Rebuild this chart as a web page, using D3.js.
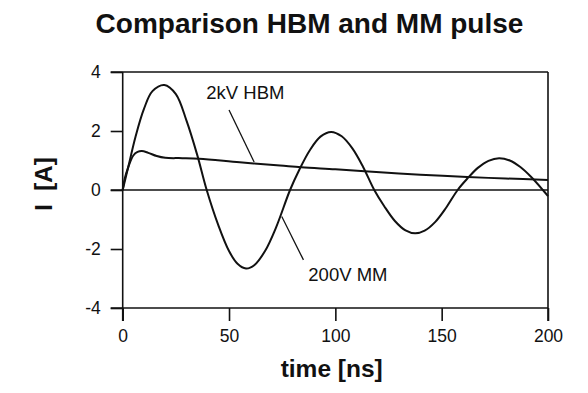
<!DOCTYPE html>
<html><head><meta charset="utf-8">
<script src="https://cdn.jsdelivr.net/npm/d3@7"></script>
<style>body{margin:0;background:#fff}svg{display:block}text{font-family:"Liberation Sans",Arial,Helvetica,sans-serif;fill:#111}</style>
</head><body>
<svg id="c" width="588" height="393"></svg>
<script>
const title = "Comparison HBM and MM pulse";
const xLabel = "time [ns]";
const yLabel = "I  [A]";
const xTicks = [0, 50, 100, 150, 200];
const yTicks = [-4, -2, 0, 2, 4];

// 200V MM pulse (time ns, current A)
const mmTime = [0, 3, 6, 10, 14, 19.6, 25, 30, 35, 39.5, 45, 50, 54, 58, 62, 67, 72, 78.7, 83, 88, 93, 98, 103, 108, 113, 118.3, 123, 128, 133, 137.5, 142, 147, 152, 157.5, 162, 167, 172, 177, 182, 187, 192, 197.6, 200];
const mmCurr = [0, 0.9, 1.8, 2.75, 3.35, 3.56, 3.25, 2.35, 1.2, 0, -1.2, -2.07, -2.5, -2.66, -2.54, -2.06, -1.29, 0, 0.68, 1.35, 1.81, 1.97, 1.82, 1.41, 0.79, 0, -0.55, -1.05, -1.37, -1.47, -1.38, -1.08, -0.61, 0, 0.38, 0.75, 0.99, 1.08, 1.0, 0.78, 0.45, 0, -0.21];

// 2kV HBM pulse
const hbmTime = [0, 1, 2.6, 5, 7, 9, 12, 16, 20, 28, 36, 55, 74, 84, 100, 121, 140, 162, 180, 200];
const hbmCurr = [0, 0.4, 0.77, 1.17, 1.29, 1.32, 1.26, 1.15, 1.09, 1.08, 1.06, 0.94, 0.83, 0.77, 0.7, 0.6, 0.52, 0.44, 0.39, 0.34];

const annotations = [
  {text: "2kV HBM", tx: 39.3, ty: 3.08, x1: 50, y1: 2.71, x2: 61.8, y2: 0.95},
  {text: "200V MM", tx: 87.3, ty: -3.1, x1: 85, y1: -2.37, x2: 74.8, y2: -0.9}
];

const svg = d3.select("#c");
const x = d3.scaleLinear().domain([0, 200]).range([122.7, 548]);
const y = d3.scaleLinear().domain([-4, 4]).range([308, 72]);
const ink = "#111";
const fmt = d => String(d);

svg.append("text").attr("x", 309.5).attr("y", 33).attr("text-anchor", "middle")
  .style("font-size", "28px").style("font-weight", "bold").text(title);

// frame
const g = svg.append("g");
g.append("line").attr("x1", x(200)).attr("x2", x(200)).attr("y1", y(4)).attr("y2", y(-4) + 13)
  .attr("stroke", ink).attr("stroke-width", 1.6);
g.append("line").attr("x1", x(0) - 12).attr("x2", x(200)).attr("y1", y(4)).attr("y2", y(4))
  .attr("stroke", ink).attr("stroke-width", 1.6);
g.append("line").attr("x1", x(0) - 12).attr("x2", x(200)).attr("y1", y(-4)).attr("y2", y(-4))
  .attr("stroke", ink).attr("stroke-width", 1.6);
g.append("line").attr("x1", x(0) - 12).attr("x2", x(200)).attr("y1", y(0)).attr("y2", y(0))
  .attr("stroke", ink).attr("stroke-width", 1.5);

// axes via d3
const yAxis = d3.axisLeft(y).tickValues(yTicks).tickSize(12).tickPadding(10).tickFormat(fmt);
const ya = svg.append("g").attr("transform", `translate(${x(0)},0)`).call(yAxis);
ya.select(".domain").attr("d", `M0,${y(4)}V${y(-4) + 13}`).attr("stroke", ink).attr("stroke-width", 1.6);
ya.selectAll(".tick line").attr("stroke", ink).attr("stroke-width", 1.6);
ya.selectAll(".tick text").style("font-size", "17.5px").attr("fill", ink).attr("font-family", null);

const xAxis = d3.axisBottom(x).tickValues(xTicks).tickSize(13).tickPadding(9).tickFormat(fmt);
const xa = svg.append("g").attr("transform", `translate(0,${y(-4)})`).call(xAxis);
xa.select(".domain").remove();
xa.selectAll(".tick line").attr("stroke", ink).attr("stroke-width", 1.6);
xa.selectAll(".tick text").style("font-size", "17.5px").attr("fill", ink).attr("font-family", null);

svg.append("text").attr("x", 331.7).attr("y", 377).attr("text-anchor", "middle")
  .style("font-size", "24.5px").style("font-weight", "bold").text(xLabel);
svg.append("text").attr("transform", "translate(52,184) rotate(-90)").attr("text-anchor", "middle")
  .style("font-size", "24px").style("font-weight", "bold").style("white-space", "pre").text(yLabel);

// curves
const line = d3.line().x(d => x(d[0])).y(d => y(d[1])).curve(d3.curveCatmullRom.alpha(0.5));
svg.append("path").datum(mmTime.map((t, i) => [t, mmCurr[i]])).attr("d", line)
  .attr("fill", "none").attr("stroke", ink).attr("stroke-width", 2);
svg.append("path").datum(hbmTime.map((t, i) => [t, hbmCurr[i]])).attr("d", line)
  .attr("fill", "none").attr("stroke", ink).attr("stroke-width", 2);

annotations.forEach(a => {
  svg.append("text").attr("x", x(a.tx)).attr("y", y(a.ty)).style("font-size", "18.5px").text(a.text);
  svg.append("line").attr("x1", x(a.x1)).attr("y1", y(a.y1)).attr("x2", x(a.x2)).attr("y2", y(a.y2))
    .attr("stroke", ink).attr("stroke-width", 1.3);
});
</script>
</body></html>
